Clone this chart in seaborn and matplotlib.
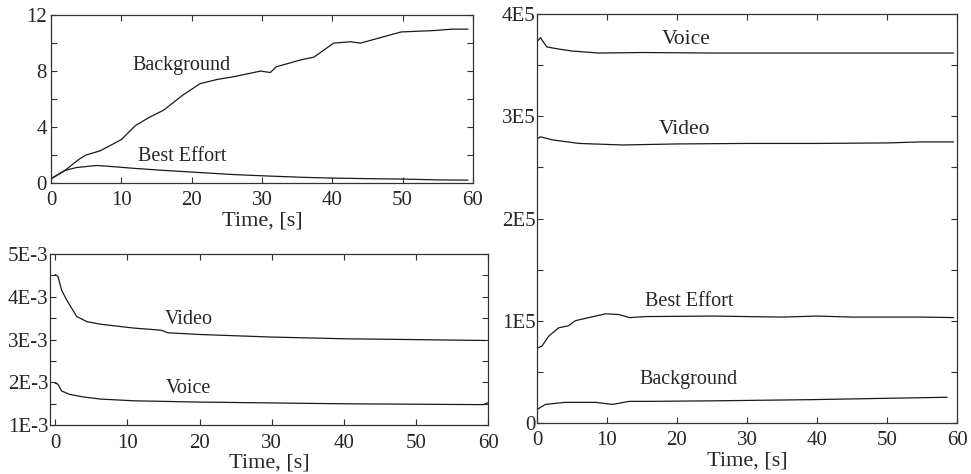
import numpy as np
import pandas as pd
import matplotlib
matplotlib.use("Agg")
import matplotlib.pyplot as plt
import seaborn as sns
from matplotlib.ticker import FixedLocator, MultipleLocator

# ---------------- data ----------------
# Top-left panel
tl_bg_t = [0, 2, 4, 5, 7, 10, 12, 14, 16, 18.8, 21.2, 23.6, 26, 29.8, 31.2, 32, 35.5, 37.4, 40.2, 42.6, 44, 49.8, 54.5, 57, 59.3]
tl_bg_v = [0.3, 0.9, 1.7, 2.0, 2.3, 3.1, 4.1, 4.7, 5.2, 6.3, 7.1, 7.4, 7.6, 8.0, 7.9, 8.3, 8.8, 9.0, 10.0, 10.1, 10.0, 10.8, 10.9, 11.0, 11.0]
tl_be_t = [0, 2, 3.6, 5.5, 6.5, 8, 11.7, 16, 21, 26, 30.7, 36, 40, 46, 50, 55, 59.3]
tl_be_v = [0.3, 0.9, 1.1, 1.2, 1.25, 1.2, 1.05, 0.9, 0.75, 0.6, 0.5, 0.4, 0.35, 0.3, 0.28, 0.22, 0.2]

# Bottom-left panel (values in units of 1E-3)
bl_video_t = [0, 0.4, 0.9, 1.6, 3.0, 4.4, 6.3, 10.9, 14.7, 15.6, 20, 30, 40, 50, 59.5]
bl_video_v = [4.52, 4.48, 4.16, 3.93, 3.54, 3.42, 3.36, 3.27, 3.22, 3.16, 3.12, 3.06, 3.02, 3.0, 2.98]
bl_voice_t = [0, 0.4, 0.9, 2.0, 3.9, 6.3, 10.9, 20, 30, 40, 50, 59.3, 60]
bl_voice_v = [1.98, 1.96, 1.80, 1.72, 1.66, 1.61, 1.57, 1.54, 1.52, 1.50, 1.49, 1.48, 1.53]

# Right panel (values in units of 1E5)
r_voice_t = [0, 0.5, 1.4, 3, 5, 8.8, 15, 25, 35, 45, 55, 59.5]
r_voice_v = [3.73, 3.77, 3.68, 3.66, 3.64, 3.62, 3.625, 3.62, 3.62, 3.62, 3.62, 3.62]
r_video_t = [0, 0.5, 2.2, 6, 12.2, 20, 30, 40, 50, 55, 59.5]
r_video_v = [2.78, 2.80, 2.77, 2.735, 2.72, 2.73, 2.735, 2.735, 2.74, 2.75, 2.75]
r_be_t = [0, 0.7, 1.7, 3.1, 4.5, 5.5, 7.4, 9.8, 11.7, 13.2, 15.6, 25, 35, 40, 45, 55, 59.5]
r_be_v = [0.73, 0.75, 0.85, 0.93, 0.95, 1.0, 1.03, 1.067, 1.06, 1.03, 1.04, 1.045, 1.035, 1.045, 1.035, 1.035, 1.03]
r_bg_t = [0, 1.2, 4, 8.4, 10.8, 13.2, 16, 25, 39.5, 50, 58.6]
r_bg_v = [0.13, 0.18, 0.20, 0.20, 0.18, 0.21, 0.21, 0.215, 0.227, 0.24, 0.25]

x_ticks = [0, 10, 20, 30, 40, 50, 60]
tl_yticks = [0, 4, 8, 12]
tl_ylabels = ["0", "4", "8", "12"]
bl_yticks = [1, 2, 3, 4, 5]
bl_ylabels = ["1E-3", "2E-3", "3E-3", "4E-3", "5E-3"]
r_yticks = [0, 1, 2, 3, 4]
r_ylabels = ["0", "1E5", "2E5", "3E5", "4E5"]
xlabel = "Time, [s]"

# ---------------- style ----------------
sns.set_style("ticks")
plt.rcParams["font.family"] = ["Liberation Serif", "DejaVu Serif"]
plt.rcParams["font.size"] = 14.5

fig = plt.figure(figsize=(9.71, 4.74), dpi=100)
ax_tl = fig.add_axes([0.0525, 0.614, 0.4345, 0.354])
ax_bl = fig.add_axes([0.0515, 0.103, 0.4515, 0.361])
ax_r = fig.add_axes([0.553, 0.108, 0.4326, 0.862])

line_kw = dict(color="#1a1a1a", linewidth=0.9, legend=False)

def df(t, v):
    return pd.DataFrame({"t": t, "v": v})

sns.lineplot(data=df(tl_bg_t, tl_bg_v), x="t", y="v", ax=ax_tl, **line_kw)
sns.lineplot(data=df(tl_be_t, tl_be_v), x="t", y="v", ax=ax_tl, **line_kw)
sns.lineplot(data=df(bl_video_t, bl_video_v), x="t", y="v", ax=ax_bl, **line_kw)
sns.lineplot(data=df(bl_voice_t, bl_voice_v), x="t", y="v", ax=ax_bl, **line_kw)
sns.lineplot(data=df(r_voice_t, r_voice_v), x="t", y="v", ax=ax_r, **line_kw)
sns.lineplot(data=df(r_video_t, r_video_v), x="t", y="v", ax=ax_r, **line_kw)
sns.lineplot(data=df(r_be_t, r_be_v), x="t", y="v", ax=ax_r, **line_kw)
sns.lineplot(data=df(r_bg_t, r_bg_v), x="t", y="v", ax=ax_r, **line_kw)

def style(ax, xlim, ylim, yticks, ylabels, yminor, ypad):
    ax.set_xlim(*xlim)
    ax.set_ylim(*ylim)
    ax.xaxis.set_major_locator(FixedLocator(x_ticks))
    ax.set_xticklabels([str(x) for x in x_ticks])
    ax.yaxis.set_major_locator(FixedLocator(yticks))
    ax.set_yticklabels(ylabels)
    ax.yaxis.set_minor_locator(MultipleLocator(yminor))
    ax.set_xlabel(xlabel, fontsize=16, labelpad=1)
    ax.set_ylabel("")
    for s in ax.spines.values():
        s.set_visible(True)
        s.set_linewidth(0.9)
        s.set_color("#333333")
    ax.tick_params(which="both", direction="in", top=True, right=True,
                   length=4, width=0.8, color="#333333", labelsize=15)
    ax.tick_params(axis="x", pad=6)
    ax.tick_params(axis="y", pad=ypad)

style(ax_tl, (0, 60), (0, 12), tl_yticks, tl_ylabels, 2, 3)
style(ax_bl, (-0.7, 60), (1, 5), bl_yticks, bl_ylabels, 0.5, 1)
style(ax_r, (0, 60), (0, 4), r_yticks, r_ylabels, 0.5, 1)

txt = dict(fontsize=14.5, ha="center", va="center")
ax_tl.text(18.6, 8.4, "Background", **txt)
ax_tl.text(18.6, 1.86, "Best Effort", **txt)
ax_bl.text(18.5, 3.46, "Video", **txt)
ax_bl.text(18.5, 1.86, "Voice", **txt)
ax_r.text(21.3, 3.75, "Voice", fontsize=15.5, ha="center", va="center")
ax_r.text(21.1, 2.87, "Video", fontsize=15.5, ha="center", va="center")
ax_r.text(21.8, 1.19, "Best Effort", **txt)
ax_r.text(21.6, 0.42, "Background", **txt)

fig.savefig("out.png", dpi=100)
